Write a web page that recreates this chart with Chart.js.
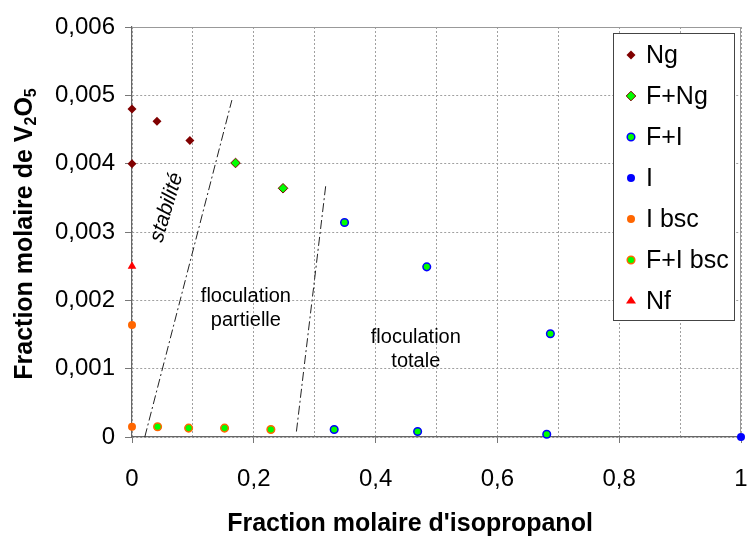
<!DOCTYPE html>
<html>
<head>
<meta charset="utf-8">
<script src="https://cdn.jsdelivr.net/npm/chart.js@4.4.1/dist/chart.umd.min.js"></script>
<style>
  html, body { margin: 0; padding: 0; background: #fff; }
  #wrap { width: 747px; height: 536px; }
</style>
</head>
<body>
<div id="wrap"><canvas id="chart" width="747" height="536"></canvas></div>
<script>
// Values
// x = fraction molaire d'isopropanol, y = fraction molaire de V2O5
const ngX = [0, 0, 0.041, 0.095];
const ngY = [0.0048, 0.0040, 0.00462, 0.00434];
const fngX = [0.170, 0.248];
const fngY = [0.00401, 0.00364];
const fiX = [0.349, 0.484, 0.687, 0.332, 0.469, 0.681];
const fiY = [0.00314, 0.00249, 0.00151, 0.00011, 0.00008, 0.00004];
const iX = [1];
const iY = [0];
const ibscX = [0, 0];
const ibscY = [0.00164, 0.00015];
const fibscX = [0.042, 0.093, 0.152, 0.228];
const fibscY = [0.00015, 0.00013, 0.00013, 0.00011];
const nfX = [0];
const nfY = [0.0025];

// dash-dot boundaries between domains
const limit1X = [0.021, 0.164];
const limit1Y = [0, 0.00493];
const limit2X = [0.270, 0.318];
const limit2Y = [0.00008, 0.00367];

const xTickLabels = ['0', '0,2', '0,4', '0,6', '0,8', '1'];
const yTickLabels = ['0', '0,001', '0,002', '0,003', '0,004', '0,005', '0,006'];

const FONT = '"Liberation Sans", Arial, sans-serif';

function pts(xs, ys) {
    return xs.map((x, i) => ({ x: x, y: ys[i] }));
}

function markerSet(label, xs, ys, style, radius, fill, border, bw) {
    return {
        label: label,
        data: pts(xs, ys),
        pointStyle: style,
        pointRadius: radius,
        pointBackgroundColor: fill,
        pointBorderColor: border,
        pointBorderWidth: bw,
        showLine: false,
        clip: false,
        order: 1
    };
}

function limitLine(xs, ys) {
    return {
        label: '',
        data: pts(xs, ys),
        showLine: true,
        pointRadius: 0,
        borderColor: '#222',
        borderWidth: 1,
        borderDash: [9, 3, 2, 3],
        fill: false,
        order: 5,
        isLimit: true
    };
}

const datasets = [
    markerSet('Ng', ngX, ngY, 'rectRot', 4.5, '#800000', '#800000', 0),
    markerSet('F+Ng', fngX, fngY, 'rectRot', 4.8, '#00ff00', '#800000', 1),
    markerSet('F+I', fiX, fiY, 'circle', 3.8, '#00ff00', '#0000ff', 1.5),
    markerSet('I', iX, iY, 'circle', 4, '#0000ff', '#0000ff', 0),
    markerSet('I bsc', ibscX, ibscY, 'circle', 4, '#ff6600', '#ff6600', 0),
    markerSet('F+I bsc', fibscX, fibscY, 'circle', 3.8, '#00ff00', '#ff6600', 1.5),
    markerSet('Nf', nfX, nfY, 'triangle', 5, '#ff0000', '#ff0000', 0),
    limitLine(limit1X, limit1Y),
    limitLine(limit2X, limit2Y)
];

// text inside the plot, placed in data units
const notes = [
    { lines: ['stabilité'], x: 0.057, y: 0.00336, font: 'italic 21px ' + FONT, rot: -73 },
    { lines: ['floculation', 'partielle'], x: 0.187, y: 0.00188, font: '20px ' + FONT, rot: 0 },
    { lines: ['floculation', 'totale'], x: 0.466, y: 0.00128, font: '20px ' + FONT, rot: 0 }
];

const framePlugin = {
    id: 'frame',
    beforeDatasetsDraw(chart) {
        const a = chart.chartArea, ctx = chart.ctx;
        ctx.save();
        ctx.strokeStyle = '#999';
        ctx.lineWidth = 1;
        ctx.beginPath();
        ctx.moveTo(a.left, a.top + 0.5);
        ctx.lineTo(a.right, a.top + 0.5);
        ctx.moveTo(a.right - 0.5, a.top);
        ctx.lineTo(a.right - 0.5, a.bottom);
        ctx.stroke();
        ctx.restore();
    }
};

const notesPlugin = {
    id: 'notes',
    afterDraw(chart) {
        const ctx = chart.ctx;
        const xs = chart.scales.x, ys = chart.scales.y;
        ctx.save();
        ctx.fillStyle = '#000';
        ctx.textAlign = 'center';
        ctx.textBaseline = 'middle';
        notes.forEach(n => {
            ctx.save();
            ctx.translate(xs.getPixelForValue(n.x), ys.getPixelForValue(n.y));
            ctx.rotate(n.rot * Math.PI / 180);
            ctx.font = n.font;
            const lh = 24;
            n.lines.forEach((t, i) => {
                ctx.fillText(t, 0, (i - (n.lines.length - 1) / 2) * lh);
            });
            ctx.restore();
        });

        // axis titles (with subscripts on the y one)
        ctx.font = 'bold 25px ' + FONT;
        ctx.fillText("Fraction molaire d'isopropanol", 410, 524);

        const parts = [
            { t: 'Fraction molaire de V', sub: false },
            { t: '2', sub: true },
            { t: 'O', sub: false },
            { t: '5', sub: true }
        ];
        const mainFont = 'bold 25px ' + FONT, subFont = 'bold 16px ' + FONT;
        let total = 0;
        parts.forEach(p => { ctx.font = p.sub ? subFont : mainFont; p.w = ctx.measureText(p.t).width; total += p.w; });
        ctx.translate(25, 234);
        ctx.rotate(-Math.PI / 2);
        ctx.textAlign = 'left';
        let cx = -total / 2;
        parts.forEach(p => {
            ctx.font = p.sub ? subFont : mainFont;
            ctx.fillText(p.t, cx, p.sub ? 7 : 0);
            cx += p.w;
        });
        ctx.restore();
    }
};

function drawMarker(ctx, ds, x, y) {
    ctx.save();
    ctx.fillStyle = ds.pointBackgroundColor;
    ctx.strokeStyle = ds.pointBorderColor;
    ctx.lineWidth = ds.pointBorderWidth;
    const r = ds.pointRadius;
    ctx.beginPath();
    if (ds.pointStyle === 'rectRot') {
        ctx.moveTo(x, y - r); ctx.lineTo(x + r, y); ctx.lineTo(x, y + r); ctx.lineTo(x - r, y);
        ctx.closePath();
    } else if (ds.pointStyle === 'triangle') {
        const s = r * 1.0;
        ctx.moveTo(x, y - r); ctx.lineTo(x + s, y + r / 2); ctx.lineTo(x - s, y + r / 2);
        ctx.closePath();
    } else {
        ctx.arc(x, y, r, 0, Math.PI * 2);
    }
    ctx.fill();
    if (ds.pointBorderWidth > 0) ctx.stroke();
    ctx.restore();
}

const boxLegendPlugin = {
    id: 'boxLegend',
    afterDraw(chart) {
        const ctx = chart.ctx;
        const items = chart.data.datasets.filter(d => !d.isLimit);
        const left = 613, top = 33, w = 121, h = 287;
        ctx.save();
        ctx.fillStyle = '#fff';
        ctx.fillRect(left, top, w, h);
        ctx.strokeStyle = '#444';
        ctx.lineWidth = 1;
        ctx.strokeRect(left + 0.5, top + 0.5, w, h);
        ctx.font = '25px ' + FONT;
        ctx.textBaseline = 'middle';
        ctx.textAlign = 'left';
        items.forEach((ds, i) => {
            const y = 55 + i * 41;
            drawMarker(ctx, ds, 631, y);
            ctx.fillStyle = '#000';
            ctx.fillText(ds.label, 646, y + 1);
        });
        ctx.restore();
    }
};

new Chart(document.getElementById('chart').getContext('2d'), {
    type: 'scatter',
    data: { datasets: datasets },
    options: {
        responsive: false,
        animation: false,
        layout: { padding: { left: 0, right: 6, top: 27, bottom: 0 } },
        plugins: {
            legend: { display: false },
            tooltip: { enabled: false }
        },
        scales: {
            x: {
                type: 'linear',
                min: 0,
                max: 1,
                afterFit(scale) { scale.height = 99; scale.paddingRight = 0; scale.paddingLeft = 0; },
                ticks: {
                    stepSize: 0.1,
                    autoSkip: false,
                    maxRotation: 0,
                    padding: 22,
                    color: '#000',
                    font: { family: FONT, size: 24 },
                    callback: (v, i) => (i % 2 === 0 ? xTickLabels[i / 2] : '')
                },
                grid: {
                    color: '#a0a0a0',
                    tickLength: 6,
                    tickColor: ctx => (ctx.index % 2 === 0 ? '#777' : 'rgba(0,0,0,0)')
                },
                border: { color: '#666', width: 1.2, dash: [2, 2] }
            },
            y: {
                type: 'linear',
                min: 0,
                max: 0.006,
                afterFit(scale) { scale.width = 132; scale.paddingTop = 0; scale.paddingBottom = 0; },
                ticks: {
                    stepSize: 0.001,
                    padding: 10,
                    color: '#000',
                    font: { family: FONT, size: 24 },
                    callback: (v, i) => yTickLabels[i]
                },
                grid: {
                    color: '#a0a0a0',
                    tickLength: 7,
                    tickColor: '#777'
                },
                border: { color: '#666', width: 1.2, dash: [2, 2] }
            }
        }
    },
    plugins: [framePlugin, notesPlugin, boxLegendPlugin]
});
</script>
</body>
</html>
